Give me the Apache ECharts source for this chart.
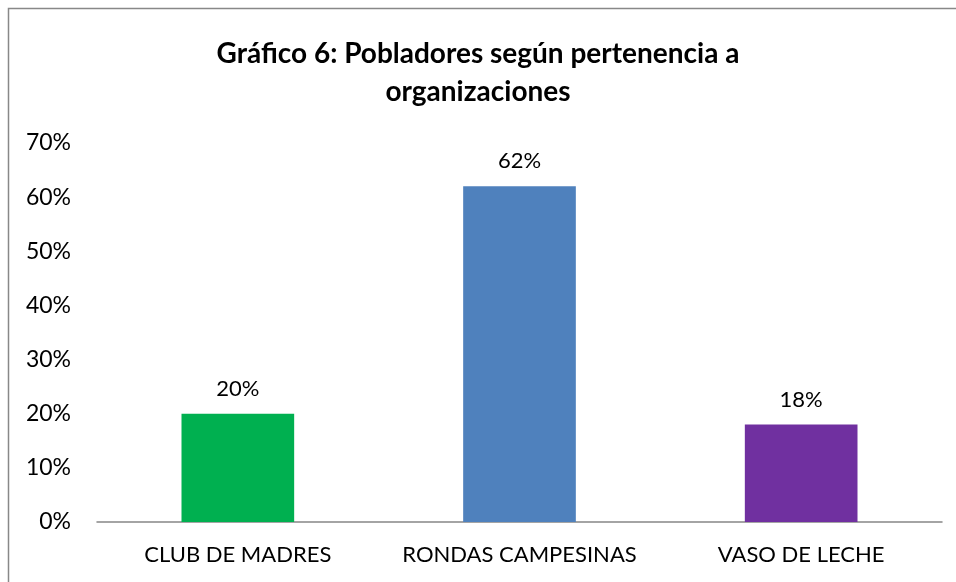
<!DOCTYPE html>
<html>
<head>
<meta charset="utf-8">
<script src="https://cdn.jsdelivr.net/npm/echarts@6/dist/echarts.min.js"></script>
<style>
  html, body { margin: 0; padding: 0; background: #fff; }
  #myBar { width: 956px; height: 582px; }
</style>
</head>
<body>
<div id="myBar"></div>
<script>
  // datos del gráfico
  let categorias = ['CLUB DE MADRES', 'RONDAS CAMPESINAS', 'VASO DE LECHE'];
  let valores = [20, 62, 18];
  let colores = ['#00B050', '#4F81BD', '#7030A0'];
  let tituloTexto = 'Gráfico 6: Pobladores según pertenencia a\norganizaciones';

  let fuente = 'Lato';
  let myBar = echarts.init(document.getElementById('myBar'));

  let option = {
    backgroundColor: '#FFF',
    animation: false,
    title: {
      text: tituloTexto,
      left: 'center',
      top: 30,
      textStyle: {
        fontFamily: fuente,
        fontWeight: 'bold',
        fontSize: 28,
        lineHeight: 38,
        color: '#000'
      }
    },
    graphic: [{
      type: 'rect',
      shape: { x: 8.5, y: 8.5, width: 1000, height: 700 },
      style: { fill: 'none', stroke: '#888', lineWidth: 1.5 },
      silent: true
    }],
    grid: {
      left: 97,
      right: 14,
      top: 143,
      bottom: 60
    },
    xAxis: {
      type: 'category',
      data: categorias,
      axisLine: {
        lineStyle: { color: '#868686', width: 1.5 }
      },
      axisTick: { show: false },
      axisLabel: {
        interval: 0,
        hideOverlap: false,
        fontFamily: fuente,
        fontSize: 22,
        color: '#000',
        margin: 22
      }
    },
    yAxis: {
      type: 'value',
      min: 0,
      max: 70,
      interval: 10,
      axisLine: { show: false },
      axisTick: { show: false },
      splitLine: { show: false },
      axisLabel: {
        formatter: '{value}%',
        fontFamily: fuente,
        fontSize: 23,
        color: '#000',
        margin: 26
      }
    },
    series: [{
      type: 'bar',
      barWidth: '40%',
      data: valores.map((v, i) => ({ value: v, itemStyle: { color: colores[i] } })),
      label: {
        show: true,
        position: 'top',
        distance: 14,
        formatter: '{c}%',
        fontFamily: fuente,
        fontSize: 22,
        color: '#000'
      }
    }]
  };

  myBar.setOption(option);
</script>
</body>
</html>
